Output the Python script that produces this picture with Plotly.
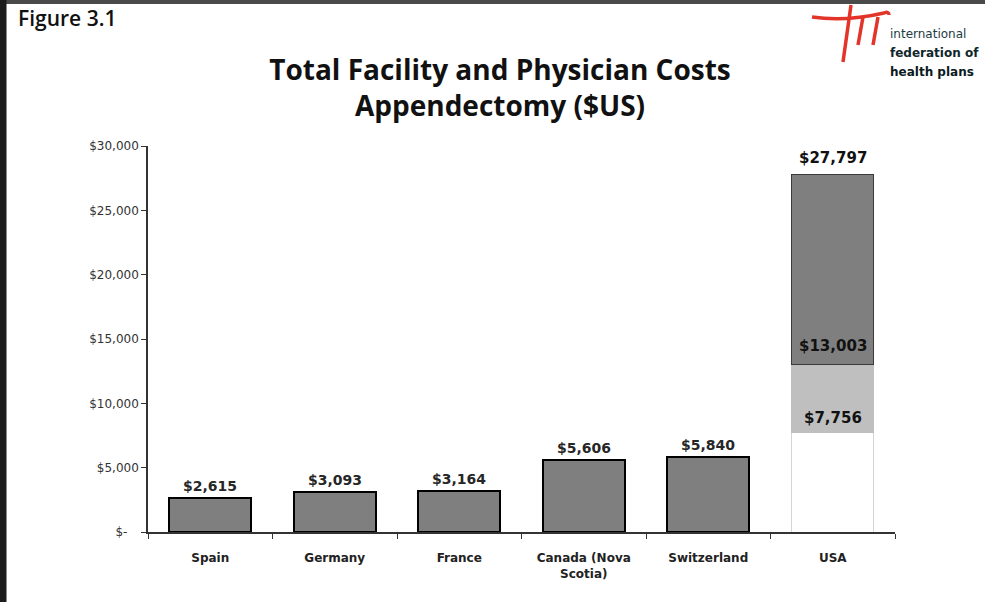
import plotly.graph_objects as go

countries = ["Spain", "Germany", "France", "Canada (Nova<br>Scotia)", "Switzerland", "USA"]
single_costs = [2615, 3093, 3164, 5606, 5840, None]
usa_levels = [7756, 13003, 27797]  # cumulative boundaries of USA stacked bar
y_tick_vals = [0, 5000, 10000, 15000, 20000, 25000, 30000]
y_tick_text = ["$-\u00a0\u00a0\u00a0", "$5,000", "$10,000", "$15,000", "$20,000", "$25,000", "$30,000"]

W, H = 985, 602
ML, MR, MT, MB = 148, 90, 146, 70
PW, PH = W - ML - MR, H - MT - MB


def px(x):
    return (x - ML) / PW


def py(y):
    return (H - MB - y) / PH


usa = countries[-1]
usa_segments = [usa_levels[0], usa_levels[1] - usa_levels[0], usa_levels[2] - usa_levels[1]]

fig = go.Figure()
fig.add_trace(go.Bar(
    x=countries, y=single_costs, width=0.66,
    marker=dict(color="#7f7f7f", line=dict(color="#000000", width=2)),
    showlegend=False, hoverinfo="skip",
))
seg_styles = [("#ffffff", "#d4d4d4", 1), ("#bfbfbf", "#bfbfbf", 1), ("#7f7f7f", "#3a3a3a", 1.2)]
for val, (fc, lc, lw) in zip(usa_segments, seg_styles):
    fig.add_trace(go.Bar(
        x=[usa], y=[val], width=0.66,
        marker=dict(color=fc, line=dict(color=lc, width=lw)),
        showlegend=False, hoverinfo="skip",
    ))

# data labels for single bars
for c, v in zip(countries[:-1], single_costs[:-1]):
    fig.add_annotation(x=c, y=v, text="${:,}".format(v), showarrow=False,
                       yanchor="middle", yshift=12,
                       font=dict(family="DejaVu Sans", size=14, color="#262626", weight=700))
# data labels for USA stacked boundaries
usa_label_shift = [14, 19, 16]
for v, s in zip(usa_levels, usa_label_shift):
    fig.add_annotation(x=usa, y=v, text="${:,}".format(v), showarrow=False,
                       yanchor="middle", yshift=s,
                       font=dict(family="DejaVu Sans", size=15, color="#111111", weight=700))

fig.update_layout(
    width=W, height=H,
    margin=dict(l=ML, r=MR, t=MT, b=MB),
    paper_bgcolor="white", plot_bgcolor="white",
    barmode="stack", bargap=0.34,
    title=dict(
        text="Total Facility and Physician Costs<br>Appendectomy ($US)",
        x=500 / W, xanchor="center", y=1 - 80 / H, yanchor="middle",
        font=dict(family="Open Sans", size=28, color="#111111", weight=700),
    ),
    xaxis=dict(
        showline=True, linecolor="#333333", linewidth=1.5,
        ticks="outside", tickson="boundaries", ticklen=5, tickcolor="#333333",
        tickfont=dict(family="DejaVu Sans", size=12, color="#222222", weight=700),
        ticklabelstandoff=14,
        showgrid=False, fixedrange=True,
    ),
    yaxis=dict(
        range=[0, 30000], tickvals=y_tick_vals, ticktext=y_tick_text,
        showline=True, linecolor="#333333", linewidth=1.5,
        ticks="outside", ticklen=5, tickcolor="#333333",
        tickfont=dict(family="DejaVu Sans", size=12, color="#333333"),
        showgrid=False, zeroline=False, fixedrange=True,
    ),
    font=dict(family="Open Sans"),
)

# frame bands (top and left)
fig.add_shape(type="rect", xref="paper", yref="paper", x0=px(0), x1=px(W), y0=py(0), y1=py(4),
              fillcolor="#4a4a4a", line=dict(width=0), layer="above")
fig.add_shape(type="rect", xref="paper", yref="paper", x0=px(0), x1=px(6), y0=py(0), y1=py(H),
              fillcolor="#1c1c1c", line=dict(color="#1c1c1c", width=1), layer="above")

# "Figure 3.1"
fig.add_annotation(text="Figure 3.1", xref="paper", yref="paper", x=px(16), y=py(18),
                   xanchor="left", yanchor="middle", showarrow=False,
                   font=dict(family="Open Sans", size=21, color="#111111", weight=600))

# logo strokes
red = "#e3342a"
logo_paths = [
    f"M {px(812)},{py(17)} Q {px(845)},{py(22)} {px(884)},{py(13)} Q {px(889)},{py(11)} {px(889)},{py(15)}",
    f"M {px(851)},{py(5)} L {px(843)},{py(62)}",
    f"M {px(863)},{py(17)} L {px(858)},{py(45)}",
    f"M {px(878)},{py(17)} L {px(873)},{py(45)}",
]
for p in logo_paths:
    fig.add_shape(type="path", path=p, xref="paper", yref="paper",
                  line=dict(color=red, width=3.5), layer="above")

for txt, yy, wt, col in [("international", 34, 400, "#1d3b44"), ("federation of", 53, 700, "#10262c"),
                         ("health plans", 72, 700, "#0b1a1f")]:
    fig.add_annotation(text=txt, xref="paper", yref="paper", x=px(888), y=py(yy),
                       xanchor="left", yanchor="middle", showarrow=False,
                       font=dict(family="DejaVu Sans", size=12, color=col, weight=wt))

fig.write_html("out.html", config={"displayModeBar": False},
               post_script="document.body.style.margin='0';")
